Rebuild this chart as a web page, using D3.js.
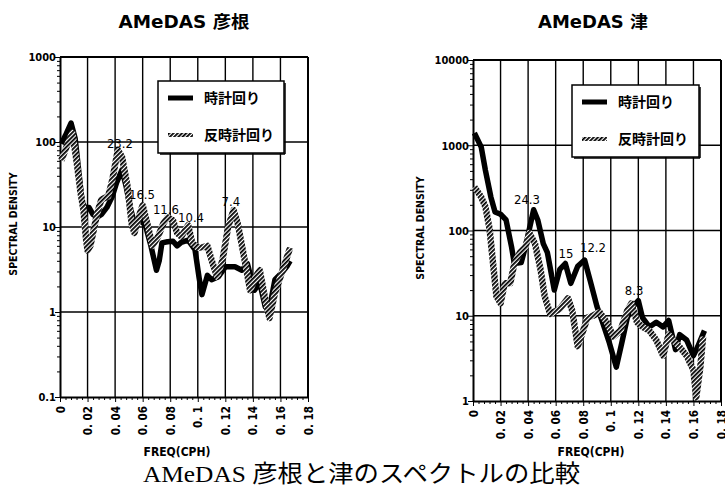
<!DOCTYPE html>
<html><head><meta charset="utf-8">
<script src="https://cdn.jsdelivr.net/npm/d3@7"></script>
<style>
body{margin:0;background:#fff;}
svg{display:block;}
.tk{font-family:"DejaVu Sans Condensed","Liberation Sans Narrow","DejaVu Sans",sans-serif;font-weight:bold;font-size:11px;fill:#000;}
</style></head>
<body>
<svg id="c" width="725" height="489"></svg>
<script>
// ---- data ----
const xTicks = [0,0.02,0.04,0.06,0.08,0.1,0.12,0.14,0.16,0.18];
const xTickLabels = ["0","0. 02","0. 04","0. 06","0. 08","0. 1","0. 12","0. 14","0. 16","0. 18"];
const hikoneYTicks = [0.1,1,10,100,1000];
const hikoneYLabels = ["0.1","1","10","100","1000"];
const tsuYTicks = [1,10,100,1000,10000];
const tsuYLabels = ["1","10","100","1000","10000"];
const seriesNames = ["時計回り","反時計回り"];

const hikoneCW = [[0.001,95],[0.004,120],[0.008,167],[0.011,110],[0.014,40],[0.016,20],[0.018,17],[0.021,17],[0.024,14],[0.027,13],[0.030,14],[0.034,17],[0.038,23],[0.041,33],[0.045,47],[0.048,30],[0.051,17],[0.054,11],[0.058,12],[0.062,10.5],[0.066,6],[0.070,3.1],[0.072,4],[0.074,6.5],[0.078,6.7],[0.082,6.8],[0.085,6],[0.088,6.6],[0.093,7],[0.098,5.4],[0.101,2.5],[0.103,1.6],[0.107,2.7],[0.110,2.4],[0.115,2.6],[0.120,3.4],[0.127,3.4],[0.132,3.1],[0.136,3.7],[0.141,1.8],[0.145,2.2],[0.149,1.15],[0.152,1.1],[0.156,2.4],[0.161,2.9],[0.165,3.5],[0.167,4]];
const hikoneCCW = [[0.001,61],[0.005,90],[0.009,128],[0.012,60],[0.015,25],[0.017,16],[0.019,7],[0.020,5.3],[0.022,6],[0.024,8.5],[0.027,14.5],[0.030,21],[0.035,23],[0.038,36],[0.042,81],[0.045,67],[0.049,30],[0.052,11],[0.054,8.5],[0.058,14.5],[0.060,18],[0.064,10],[0.067,6],[0.071,7.6],[0.075,11],[0.078,13],[0.082,12],[0.085,8.5],[0.088,7.7],[0.093,10.5],[0.096,6.5],[0.100,5.7],[0.104,5.8],[0.107,6],[0.110,4.1],[0.114,2.6],[0.118,4.1],[0.122,10],[0.126,15.8],[0.129,11],[0.134,4.1],[0.138,1.8],[0.142,2.6],[0.145,3.1],[0.149,1.4],[0.152,0.85],[0.156,1.67],[0.161,2.9],[0.167,5.7]];
const tsuCW = [[0.001,1390],[0.006,950],[0.009,510],[0.013,246],[0.016,165],[0.020,155],[0.024,133],[0.028,64],[0.030,41],[0.035,42],[0.038,64],[0.044,175],[0.047,133],[0.051,70],[0.054,55],[0.059,20],[0.063,35],[0.067,41],[0.071,24],[0.076,38],[0.081,45],[0.085,26],[0.090,12.8],[0.094,8.4],[0.099,4.8],[0.104,2.5],[0.108,4.8],[0.112,9.5],[0.116,12.8],[0.120,15],[0.123,9.5],[0.128,7.4],[0.133,8.4],[0.138,7.4],[0.142,8.8],[0.147,4],[0.150,6],[0.155,5.2],[0.160,3.4],[0.163,4.3],[0.168,6.7]];
const tsuCCW = [[0.001,324],[0.006,246],[0.009,190],[0.012,105],[0.015,35],[0.017,17],[0.020,14],[0.023,24],[0.027,24],[0.030,41],[0.034,55],[0.038,64],[0.041,93],[0.045,70],[0.049,35],[0.052,17],[0.056,10.5],[0.063,12],[0.069,16],[0.072,11.5],[0.076,4.4],[0.079,6],[0.083,9.5],[0.087,10],[0.092,11],[0.097,8.4],[0.102,5.7],[0.107,6.7],[0.112,11.5],[0.115,14],[0.119,8.4],[0.123,7.4],[0.128,6.7],[0.133,5.2],[0.138,3.4],[0.142,6],[0.145,5.2],[0.150,4.3],[0.155,3.4],[0.160,2.3],[0.162,1.1],[0.165,2.5],[0.167,5.7]];

const hikoneAnn = [[0.0435,95,"23.2"],[0.0595,24,"16.5"],[0.0769,16.3,"11.6"],[0.0951,13.1,"10.4"],[0.124,20,"7.4"]];
const tsuAnn = [[0.0392,234,"24.3"],[0.0675,54,"15"],[0.0871,64,"12.2"],[0.1169,20,"8.3"]];

// ---- drawing ----
const svg = d3.select("#c");
const defs = svg.append("defs");
const pat = defs.append("pattern").attr("id","hatch").attr("patternUnits","userSpaceOnUse")
  .attr("width",3).attr("height",3).attr("patternTransform","rotate(45)");
pat.append("rect").attr("width",3).attr("height",3).attr("fill","#fff");
pat.append("line").attr("x1",0.9).attr("y1",0).attr("x2",0.9).attr("y2",3).attr("stroke","#000").attr("stroke-width",1.8);

function panel(o){
  const x = d3.scaleLinear().domain([0,0.18]).range([o.x0,o.x1]);
  const y = d3.scaleLog().domain(o.yDom).range([o.y1,o.y0]);
  const g = svg.append("g");
  // grid
  g.selectAll(".vg").data(xTicks.slice(1)).join("line")
    .attr("x1",d=>x(d)).attr("x2",d=>x(d)).attr("y1",o.y0).attr("y2",o.y1)
    .attr("stroke","#000").attr("stroke-width",1.4);
  g.selectAll(".hg").data(o.yTicks.slice(1)).join("line")
    .attr("x1",o.x0).attr("x2",o.x1).attr("y1",d=>y(d)).attr("y2",d=>y(d))
    .attr("stroke","#000").attr("stroke-width",1.4);
  // axes
  const ya = d3.axisLeft(y).tickValues(o.yTicks).tickFormat((d,i)=>o.yLabels[i]).tickSize(5).tickSizeOuter(0);
  const yg = g.append("g").attr("transform",`translate(${o.x0},0)`).call(ya);
  yg.selectAll("text").attr("class","tk").attr("x",-4).attr("dy","0.35em");
  yg.select(".domain").attr("stroke-width",2);
  const minors = [];
  for(let e=Math.log10(o.yDom[0]); e<Math.log10(o.yDom[1]); e++) for(let m=2;m<10;m++) minors.push(m*Math.pow(10,e));
  g.append("g").attr("transform",`translate(${o.x0},0)`).call(d3.axisLeft(y).tickValues(minors).tickFormat("").tickSize(3).tickSizeOuter(0))
    .select(".domain").remove();
  const xa = d3.axisBottom(x).tickValues(xTicks).tickFormat((d,i)=>xTickLabels[i]).tickSize(5).tickSizeOuter(0);
  const xg = g.append("g").attr("transform",`translate(0,${o.y1})`).call(xa);
  xg.select(".domain").attr("stroke-width",2);
  xg.selectAll("text").attr("class","tk").style("font-size","11.5px").attr("transform","rotate(-90)")
    .attr("text-anchor","end").attr("x",-9).attr("y",0).attr("dy","0.35em");
  const xminor = d3.range(0,0.1801,0.004).filter(v=>Math.abs(v/0.02-Math.round(v/0.02))>1e-6);
  g.append("g").attr("transform",`translate(0,${o.y1})`).call(d3.axisBottom(x).tickValues(xminor).tickFormat("").tickSize(3).tickSizeOuter(0))
    .select(".domain").remove();
  // frame top/right
  g.append("line").attr("x1",o.x0).attr("x2",o.x1).attr("y1",o.y0).attr("y2",o.y0).attr("stroke","#000").attr("stroke-width",2);
  g.append("line").attr("x1",o.x1).attr("x2",o.x1).attr("y1",o.y0).attr("y2",o.y1).attr("stroke","#000").attr("stroke-width",2);
  // lines
  const line = d3.line().x(d=>x(d[0])).y(d=>y(d[1])).curve(d3.curveLinear);
  g.append("path").datum(o.cw).attr("d",line).attr("fill","none").attr("stroke","#000").attr("stroke-width",5.5).attr("stroke-linejoin","round");
  g.append("path").datum(o.ccw).attr("d",line).attr("fill","none").attr("stroke","url(#hatch)").attr("stroke-width",6.5).attr("stroke-linejoin","round");
  // annotations
  g.selectAll(".ann").data(o.ann).join("text").attr("class","tk").style("font-size","13px").style("font-weight","normal")
    .style("font-family","'Liberation Sans Narrow','DejaVu Sans Condensed',sans-serif")
    .attr("x",d=>x(d[0])).attr("y",d=>y(d[1])).attr("text-anchor","middle").attr("dy","0.35em").text(d=>d[2]);
  // legend
  const L = o.leg;
  g.append("rect").attr("x",L.x).attr("y",L.y).attr("width",L.w).attr("height",L.h).attr("fill","#fff").attr("stroke","#000").attr("stroke-width",1.5);
  g.append("line").attr("x1",L.x+L.w+1).attr("x2",L.x+L.w+1).attr("y1",L.y+2).attr("y2",L.y+L.h+1).attr("stroke","#000").attr("stroke-width",1.5);
  g.append("line").attr("x1",L.x+2).attr("x2",L.x+L.w+1).attr("y1",L.y+L.h+1).attr("y2",L.y+L.h+1).attr("stroke","#000").attr("stroke-width",1.5);
  g.append("line").attr("x1",L.x+10).attr("x2",L.x+35).attr("y1",L.y+17).attr("y2",L.y+17).attr("stroke","#000").attr("stroke-width",5);
  g.append("line").attr("x1",L.x+10).attr("x2",L.x+35).attr("y1",L.y+54).attr("y2",L.y+54).attr("stroke","url(#hatch)").attr("stroke-width",4);
  seriesNames.forEach((s,i)=>{
    g.append("text").attr("x",L.x+46).attr("y",L.y+17+i*37).attr("dy","0.35em")
      .style("font-family","'Noto Sans CJK JP',sans-serif").style("font-weight","bold").style("font-size","14px").text(s);
  });
  // titles
  g.append("text").attr("x",o.tx).attr("y",28).attr("text-anchor","middle").attr("textLength",o.tw).attr("lengthAdjust","spacingAndGlyphs")
    .style("font-family","'DejaVu Sans','Noto Sans CJK JP',sans-serif").style("font-weight","bold").style("font-size","17px").text(o.title);
  g.append("text").attr("x",o.fx).attr("y",456).attr("text-anchor","middle").attr("class","tk").style("font-size","12px").text("FREQ(CPH)");
  g.append("text").attr("transform",`translate(${o.yl},${o.ylc}) rotate(-90)`).attr("text-anchor","middle").attr("dy","0.35em")
    .attr("class","tk").style("font-size","10.5px").text("SPECTRAL DENSITY");
}

panel({x0:60,x1:308,y0:57,y1:397,yDom:[0.1,1000],yTicks:hikoneYTicks,yLabels:hikoneYLabels,cw:hikoneCW,ccw:hikoneCCW,ann:hikoneAnn,
  leg:{x:158,y:81,w:126,h:72},title:"AMeDAS 彦根",tx:184,tw:131,fx:177,yl:13,ylc:224});
panel({x0:473,x1:721,y0:60,y1:401,yDom:[1,10000],yTicks:tsuYTicks,yLabels:tsuYLabels,cw:tsuCW,ccw:tsuCCW,ann:tsuAnn,
  leg:{x:572,y:85,w:127,h:72},title:"AMeDAS 津",tx:593,tw:110,fx:591,yl:420,ylc:228});

svg.append("text").attr("x",143).attr("y",482).attr("textLength",437).attr("lengthAdjust","spacingAndGlyphs")
  .style("font-family","'Liberation Serif','Noto Sans CJK JP',serif").style("font-size","24px").text("AMeDAS 彦根と津のスペクトルの比較");
</script>
</body></html>
